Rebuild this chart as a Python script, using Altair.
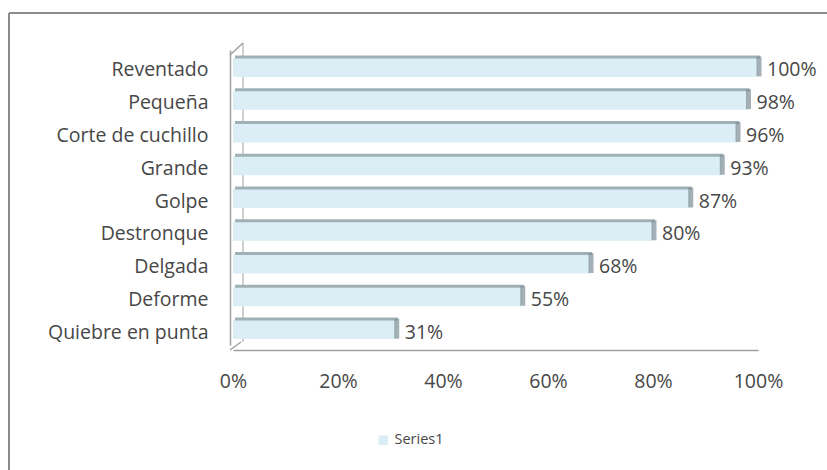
import altair as alt
import pandas as pd

categories = ["Reventado", "Pequeña", "Corte de cuchillo", "Grande", "Golpe",
              "Destronque", "Delgada", "Deforme", "Quiebre en punta"]
values = [100, 98, 96, 93, 87, 80, 68, 55, 31]
labels = ["100%", "98%", "96%", "93%", "87%", "80%", "68%", "55%", "31%"]
series = ["Series1"] * len(categories)
x_ticks = [0, 20, 40, 60, 80, 100]

df = pd.DataFrame({"cat": categories, "val": values, "label": labels, "series": series})

FONT = "Open Sans"
TXT = "#474747"
FILL = "#dbeef6"
TOP = "#9fb0b6"
SIDE = "#7d8e95"
EDGE = "#a0a0a0"
FS = 19.5

y_axis = alt.Axis(title=None, ticks=False, domain=True, domainColor=EDGE, orient="left",
                  domainWidth=1.5, labelPadding=22, labelFontSize=FS, labelOffset=4,
                  labelFont=FONT, labelColor=TXT, offset=3)
y_enc = alt.Y("cat:N", sort=categories,
              scale=alt.Scale(paddingInner=0, paddingOuter=0), axis=y_axis)
x_axis = alt.Axis(values=x_ticks, labelExpr="datum.value + '%'", title=None,
                  ticks=False, grid=False, domainColor=EDGE, domainWidth=1.5,
                  labelPadding=22, labelFontSize=FS, labelFont=FONT, labelColor=TXT,
                  labelFlush=False, offset=5)
x_enc = alt.X("val:Q", scale=alt.Scale(domain=[0, 100], nice=False), axis=x_axis)

base = alt.Chart(df)

front = base.mark_bar(size=19, color=FILL, yOffset=1).encode(
    x=x_enc, y=y_enc,
    color=alt.Color("series:N", scale=alt.Scale(range=[FILL]),
                    legend=alt.Legend(orient="none", legendX=143, legendY=383, title=None,
                                      symbolType="square", symbolSize=90,
                                      symbolStrokeWidth=0,
                                      labelFontSize=14.5, labelFont=FONT, labelColor=TXT)),
)

top = base.mark_bar(size=3, color=TOP, yOffset=-9.5, xOffset=2).encode(x=x_enc, y=y_enc)

side = base.mark_tick(thickness=5, size=20, color=SIDE, xOffset=1).encode(x=x_enc, y=y_enc)

text = base.mark_text(align="left", dx=9, dy=4, fontSize=FS, font=FONT, color=TXT).encode(
    x=x_enc, y=y_enc, text="label:N")

# decorative 3D wall / floor edges and outer frame
deco_src = alt.Chart(pd.DataFrame({"k": [0]}))
wall_top = deco_src.mark_rule(color=EDGE, strokeWidth=1.5).encode(
    x=alt.value(-3), y=alt.value(5), x2=alt.value(10), y2=alt.value(-7))
wall_back = deco_src.mark_rule(color="#b0b0b0", strokeWidth=1.2).encode(
    x=alt.value(10), y=alt.value(-7), y2=alt.value(292))
floor_slant = deco_src.mark_rule(color=EDGE, strokeWidth=1.5).encode(
    x=alt.value(-3), y=alt.value(300), x2=alt.value(8), y2=alt.value(292))
frame_left = deco_src.mark_rule(color="#8c8c8c", strokeWidth=2).encode(
    x=alt.value(-224), y=alt.value(-37), y2=alt.value(430))
frame_top = deco_src.mark_rule(color="#8c8c8c", strokeWidth=2).encode(
    x=alt.value(-224), x2=alt.value(600), y=alt.value(-37))

chart = alt.layer(
    wall_back, front, top, side, text, wall_top, floor_slant, frame_left, frame_top
).properties(
    width=525, height=295,
    padding={"left": 233, "top": 50, "right": 69, "bottom": 125},
    autosize=alt.AutoSizeParams(type="none"),
    background="white",
).configure_view(stroke=None, strokeWidth=0)

chart.save("out.html", embed_options={"renderer": "svg", "actions": False})
